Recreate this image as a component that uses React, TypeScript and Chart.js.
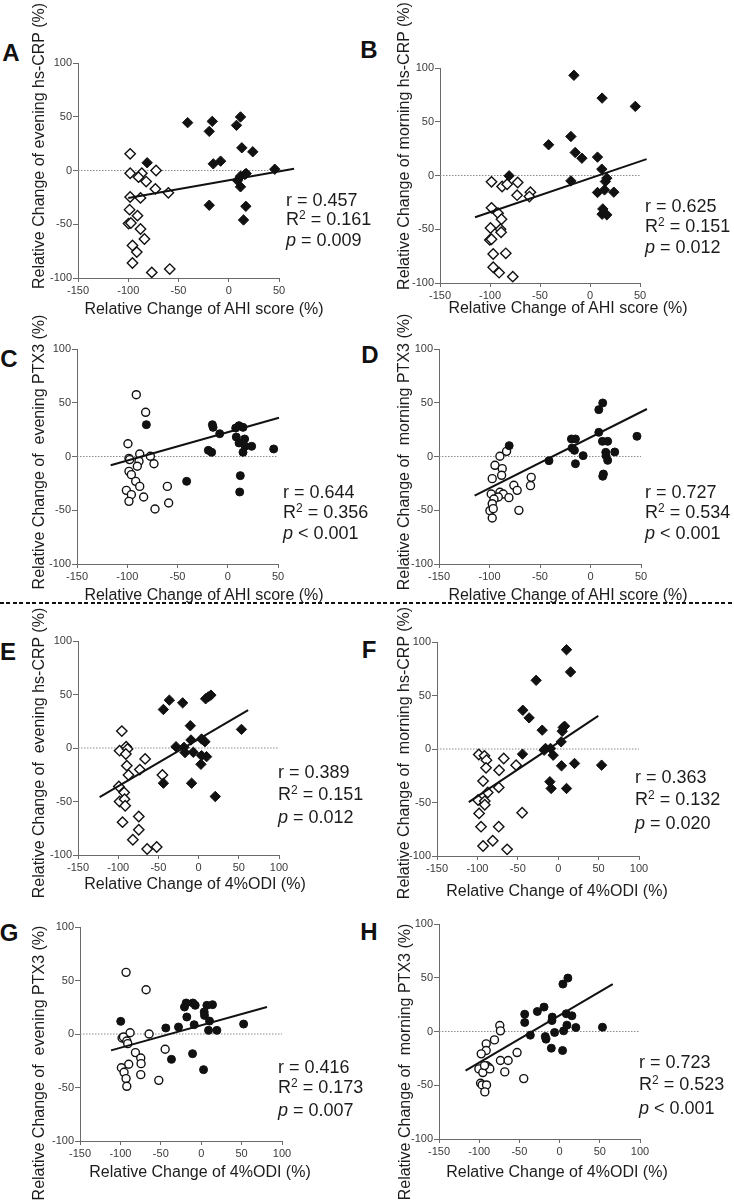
import React, { useEffect, useRef } from 'react';
import { Chart, registerables } from 'chart.js';

Chart.register(...registerables);

// ---------- tick labels ----------
const yTicks = [-100, -50, 0, 50, 100];
const xTicksAHI = [-150, -100, -50, 0, 50];
const xTicksODI = [-150, -100, -50, 0, 50, 100];

// ---------- Panel A : evening hs-CRP vs AHI ----------
const aOpenX = [-98.1, -98.1, -86.5, -89.8, -82.2, -72.3, -73, -60.1, -98.1, -87.8, -98.7, -90.8, -99.7, -97.4, -87.8, -83.9, -95.8, -91.5, -95.8, -76.6, -58.7];
const aOpenY = [15.5, -2.5, -2.5, -6.2, -10.3, 0, -17.1, -20.8, -24.6, -25.5, -36.4, -42, -49.4, -48.8, -54.4, -63.7, -69.7, -75.9, -86.1, -94.8, -91.7];
const aFillX = [-81.2, -40.9, -19.4, -16.4, -15.4, -8.1, -19.4, 7.7, 11.7, 13, 23.9, 8.7, 11.7, 16, 17.3, 11.7, 17, 14.7, 45.8];
const aFillY = [7.2, 44.5, 36.4, 45.7, 6.2, 8.7, -32.3, 42, 49.8, 21.1, 17.4, -9.3, -5.3, -3.7, -2.8, -15.2, -33.3, -46, 1.2];
const aFitX = [-100, 65];
const aFitY = [-25.5, 1.6];

// ---------- Panel B : morning hs-CRP vs AHI ----------
const bOpenX = [-98.5, -87.9, -82.9, -72.3, -72.9, -59.6, -60.6, -98.5, -91.9, -88.5, -99.5, -89.5, -88.9, -100.2, -98.5, -96.8, -84.2, -96.8, -90.9, -77.2];
const bOpenY = [-5.9, -10.2, -8.1, -6.5, -18.3, -15.5, -19.6, -30.1, -35.1, -40.7, -48.8, -50, -52.8, -59.9, -59.3, -73, -72.4, -85.4, -90.4, -94.1];
const bFillX = [-80.9, -41.4, -19.1, -16.1, -14.8, -8.1, -19.1, 7.5, 12.1, 45.3, 11.8, 7.5, 15.4, 16.8, 14.5, 23.8, 12.8, 12.1, 16.8];
const bFillY = [-0.3, 28.6, 36.3, 93.2, 21.4, 16.1, -5, 17.1, 72, 64.3, 5.9, -15.8, -5.6, -2.5, -13.4, -15.5, -31.1, -36, -36.6];
const bFitX = [-115, 56.6];
const bFitY = [-38.8, 15.2];

// ---------- Panel C : evening PTX3 vs AHI ----------
const cOpenX = [-91, -81.7, -99.3, -98.3, -97.6, -87.6, -88.3, -90, -77, -73.4, -98.3, -95.9, -91.6, -87.6, -100.9, -95.9, -98.3, -83.7, -60.1, -58.8, -72.4];
const cOpenY = [57.5, 41.1, 11.9, -1.7, -2.9, 2.3, -4.5, -9.1, 0.2, -6.7, -13.8, -16.9, -23.1, -27.8, -31.5, -35.5, -41.7, -37.7, -27.8, -43.3, -48.8];
const cFillX = [-81, -40.9, -19.3, -16, -15.3, -14.6, -8, 7.9, 8.5, 11.2, 15.2, 11.2, 16.8, 17.2, 15.2, 23.8, 12.5, 11.9, 45.7];
const cFillY = [29.6, -23.1, 5.7, 3.9, 29.6, 27.1, 21.2, 26.5, 18.1, 28.7, 27.1, 12.6, 16.3, 9.5, 3.9, 9.5, -17.8, -33, 7];
const cFitX = [-116.5, 51];
const cFitY = [-8.2, 36];

// ---------- Panel D : morning PTX3 vs AHI ----------
const dOpenX = [-89.7, -83.1, -94.6, -87.4, -97.3, -88, -75.9, -72.6, -58.7, -59.4, -98.3, -89.7, -86.4, -91.3, -80.8, -95.6, -97.3, -99.6, -96.3, -97.3, -70.9];
const dOpenY = [0.2, 4.8, -8.2, -11.3, -20.6, -17.5, -26.8, -31.5, -19.4, -27.1, -34.9, -33.3, -34.9, -37.7, -38.3, -39.5, -43.9, -50.4, -48.5, -57.2, -50.1];
const dFillX = [-80.5, -41.1, -18.9, -14.9, -18.2, -15.9, -14.9, -7.3, 8.2, 8.2, 12.1, 11.8, 17, 15.1, 15.4, 17, 12.8, 12.1, 24, 46];
const dFillY = [10.1, -3.9, 16.3, 16.3, 7.9, 5.7, -6.7, 0.8, 22.5, 43.6, 49.8, 14.1, 14.1, 3.9, 0.8, -3.6, -16.3, -18.4, 4.2, 18.8];
const dFitX = [-114.7, 55.9];
const dFitY = [-36.4, 44.2];

// ---------- Panel E : evening hs-CRP vs 4%ODI ----------
const eOpenX = [-95.5, -98.3, -90.1, -88.4, -90.5, -66.5, -89.3, -87.2, -73.1, -45, -99.2, -92.6, -98.3, -92.1, -91.3, -74.4, -94.6, -74.4, -81.8, -64, -52.1];
const eOpenY = [15.8, -2.5, 1.2, -0.9, -5.6, -10.2, -16.5, -25.2, -20.2, -25.2, -36, -41.6, -50, -47.8, -54, -64, -69.3, -76.4, -85.7, -94.4, -92.5];
const eFillX = [-43.8, -36.4, -19.8, -43.8, -28.1, -18.2, -16.9, -10.3, -9.5, -6.6, -8.7, 3.7, 7.9, 3.7, 2.9, 9.9, 8.7, 12, 15.3, 20.7, 53.3];
const eFillY = [36, 44.7, 42.2, -32.9, 1.2, 0.6, -4.3, 20.8, 7.5, -4, -32.9, 8.4, 5.9, -7.1, -15.2, -8.1, 46, 47.8, 49.4, -45.3, 17.4];
const eFitX = [-123.1, 61.6];
const eFitY = [-46, 35.4];

// ---------- Panel F : morning hs-CRP vs 4%ODI ----------
const fOpenX = [-98.3, -91.3, -88.8, -89.3, -67.4, -73.1, -52.1, -93, -73.6, -87.2, -99.2, -90.9, -90.9, -97.9, -44.6, -95.5, -73.6, -81, -93, -63.2];
const fOpenY = [-5.1, -6.4, -10.4, -17.6, -8.9, -19.8, -15.1, -30, -35.9, -40.6, -47.7, -48.7, -52.1, -60.2, -59.6, -72.6, -72.6, -85.7, -90.7, -93.8];
const fFillX = [-43.8, -36, -27.3, -19.8, -17.4, -15.7, -44.2, -9.5, -6.2, -10.3, -8.7, 3.7, 5, 7.9, 6.2, 4.1, 10.3, 15.3, 10.3, 20.2, 53.7];
const fFillY = [36.2, 29.1, 64.2, 17.6, -1.1, 0.5, -4.8, 0.5, -5.8, -30.6, -36.9, 6.7, 16.6, 21.3, 20.1, -15.7, 92.8, 72, -36.9, -13.5, -15.1];
const fFitX = [-110.7, 49.6];
const fFitY = [-49.6, 30.9];

// ---------- Panel G : evening PTX3 vs 4%ODI ----------
const gOpenX = [-93, -68.2, -88, -64.5, -97.9, -96.2, -92.1, -90.9, -81.4, -74.8, -74.4, -89.7, -98.8, -95.5, -93, -92.1, -74.8, -44.6, -52.5];
const gOpenY = [57.6, 41.4, 1.2, 0, -3.7, -2.8, -6.5, -9, -17.4, -22.4, -27.7, -28.3, -31.5, -35.8, -41.7, -48.9, -38, -14.3, -43.3];
const gFillX = [-99.6, -43.8, -28.1, -36.8, -18.6, -20.7, -17.8, -10.3, -7.4, -8.7, -10.7, 3.7, 4.1, 7, 10.3, 14, 9.1, 19.4, 2.9, 52.5];
const gFillY = [11.8, 5.6, 6.5, -23.7, 29, 25.2, 15.9, 29, 26.8, 8.7, -18.4, 20.6, 17.4, 26.8, 12.1, 27.4, 3.4, 3.4, -33.3, 9.3];
const gFitX = [-111.6, 81.4];
const gFitY = [-15.3, 25.2];

// ---------- Panel H : morning PTX3 vs 4%ODI ----------
const hOpenX = [-74.4, -73.6, -81, -91.3, -91.3, -97.5, -73.6, -64, -52.9, -68.2, -100.4, -95.5, -90.9, -88, -86.8, -93.4, -98.3, -96.3, -90.9, -93, -44.6];
const hOpenY = [5.6, 0.6, -7.8, -11.5, -17.7, -20.8, -27, -27, -19.6, -37.6, -34.8, -38.2, -31.7, -33.5, -34.8, -31.7, -48.1, -49.7, -49.7, -56.2, -43.8];
const hFillX = [-43.4, -43.4, -36.4, -27.7, -19.4, -17.8, -16.9, -10.3, -9.1, -9.5, -6.2, 3.7, 4.1, 10.3, 8.3, 15.3, 5, 9.1, 20.2, 53.3];
const hFillY = [16.1, 8.4, -3.4, 18.6, 22.7, -4.7, -7.1, -15.5, 13.4, 10.2, -0.9, -17.7, 44.1, 49.7, 16.5, 14.6, 0.6, 5.9, 3.7, 4];
const hFitX = [-117, 66.1];
const hFitY = [-36.3, 44.1];

// ---------- text ----------
const titleAHI = 'Relative Change of AHI score (%)';
const titleODI = 'Relative Change of 4%ODI (%)';
const statR = ['0.457', '0.625', '0.644', '0.727', '0.389', '0.363', '0.416', '0.723'];
const statR2 = ['0.161', '0.151', '0.356', '0.534', '0.151', '0.132', '0.173', '0.523'];
const statP = ['= 0.009', '= 0.012', '< 0.001', '< 0.001', '= 0.012', '= 0.020', '= 0.007', '< 0.001'];

// ---------- styling / layout ----------
const SANS = "'Liberation Sans', Arial, Helvetica, sans-serif";
const NARROW = "'Liberation Sans Narrow', 'Arial Narrow', 'Liberation Sans', Arial, sans-serif";
const AXIS = '#6a6a6a';
const TICK = '#3a3a3a';
const TEXT = '#1c1c1c';
const WY = 40;
const HX = 24;
const PADT = 12;
const PADR = 32;

type Panel = {
  id: string;
  openX: number[]; openY: number[]; fillX: number[]; fillY: number[];
  fitX: number[]; fitY: number[];
  xTicks: number[];
  marker: string;
  box: { l: number; r: number; t: number; b: number };
  letter: [number, number];
  yTitle: string; yTitlePos: [number, number];
  xTitle: string; xTitlePos: [number, number];
  stat: [number, number, number];
};

const panels: Panel[] = [
  { id: 'A', openX: aOpenX, openY: aOpenY, fillX: aFillX, fillY: aFillY, fitX: aFitX, fitY: aFitY, xTicks: xTicksAHI, marker: 'rectRot',
    box: { l: 78, r: 279, t: 63, b: 278 }, letter: [11, 53],
    yTitle: 'Relative Change of evening hs-CRP (%)', yTitlePos: [39, 146], xTitle: titleAHI, xTitlePos: [204, 309], stat: [286, 200, 19] },
  { id: 'B', openX: bOpenX, openY: bOpenY, fillX: bFillX, fillY: bFillY, fitX: bFitX, fitY: bFitY, xTicks: xTicksAHI, marker: 'rectRot',
    box: { l: 440, r: 640, t: 68, b: 283 }, letter: [369, 50],
    yTitle: 'Relative Change of morning hs-CRP (%)', yTitlePos: [404, 146], xTitle: titleAHI, xTitlePos: [568, 308], stat: [645, 207, 19.5] },
  { id: 'C', openX: cOpenX, openY: cOpenY, fillX: cFillX, fillY: cFillY, fitX: cFitX, fitY: cFitY, xTicks: xTicksAHI, marker: 'circle',
    box: { l: 77, r: 278, t: 349, b: 564 }, letter: [9, 359],
    yTitle: 'Relative Change of  evening PTX3 (%)', yTitlePos: [39, 452], xTitle: titleAHI, xTitlePos: [204, 595], stat: [283, 493, 19.5] },
  { id: 'D', openX: dOpenX, openY: dOpenY, fillX: dFillX, fillY: dFillY, fitX: dFitX, fitY: dFitY, xTicks: xTicksAHI, marker: 'circle',
    box: { l: 439, r: 641, t: 349, b: 564 }, letter: [370, 355],
    yTitle: 'Relative Change of  morning PTX3 (%)', yTitlePos: [404, 452], xTitle: titleAHI, xTitlePos: [568, 595], stat: [645, 493, 19.5] },
  { id: 'E', openX: eOpenX, openY: eOpenY, fillX: eFillX, fillY: eFillY, fitX: eFitX, fitY: eFitY, xTicks: xTicksODI, marker: 'rectRot',
    box: { l: 78, r: 279, t: 641, b: 855 }, letter: [8, 652],
    yTitle: 'Relative Change of  evening hs-CRP (%)', yTitlePos: [39, 753], xTitle: titleODI, xTitlePos: [195, 884], stat: [278, 773, 21.3] },
  { id: 'F', openX: fOpenX, openY: fOpenY, fillX: fFillX, fillY: fFillY, fitX: fFitX, fitY: fFitY, xTicks: xTicksODI, marker: 'rectRot',
    box: { l: 437, r: 639, t: 642, b: 856 }, letter: [369, 650],
    yTitle: 'Relative Change of  morning hs-CRP (%)', yTitlePos: [404, 753], xTitle: titleODI, xTitlePos: [557, 891], stat: [635, 778, 21.7] },
  { id: 'G', openX: gOpenX, openY: gOpenY, fillX: gFillX, fillY: gFillY, fitX: gFitX, fitY: gFitY, xTicks: xTicksODI, marker: 'circle',
    box: { l: 80, r: 282, t: 927, b: 1141 }, letter: [9, 933],
    yTitle: 'Relative Change of  evening PTX3 (%)', yTitlePos: [39, 1063], xTitle: titleODI, xTitlePos: [200, 1172], stat: [278, 1067, 20.7] },
  { id: 'H', openX: hOpenX, openY: hOpenY, fillX: hFillX, fillY: hFillY, fitX: hFitX, fitY: hFitY, xTicks: xTicksODI, marker: 'circle',
    box: { l: 439, r: 640, t: 924, b: 1139 }, letter: [369, 932],
    yTitle: 'Relative Change of  morning PTX3 (%)', yTitlePos: [405, 1062], xTitle: titleODI, xTitlePos: [557, 1172], stat: [639, 1063, 21.7] },
];

const zip = (xs: number[], ys: number[]) => xs.map((x, i) => ({ x, y: ys[i] }));

function buildConfig(p: Panel): any {
  const xMin = p.xTicks[0];
  const xMax = p.xTicks[p.xTicks.length - 1];
  const isDiamond = p.marker === 'rectRot';
  const radius = isDiamond ? 5.2 : 4;
  return {
    type: 'scatter',
    data: {
      datasets: [
        {
          data: [{ x: xMin, y: 0 }, { x: xMax, y: 0 }],
          showLine: true, pointRadius: 0, borderColor: '#8a8a8a', borderWidth: 1, borderDash: [1.5, 1.5],
          order: 4, clip: false,
        },
        {
          data: zip(p.openX, p.openY),
          pointStyle: p.marker, pointRadius: radius, backgroundColor: '#ffffff', borderColor: '#111111',
          borderWidth: 1.4, order: 3, clip: false,
        },
        {
          data: zip(p.fillX, p.fillY),
          pointStyle: p.marker, pointRadius: radius, backgroundColor: '#111111', borderColor: '#111111',
          borderWidth: 1, order: 2, clip: false,
        },
        {
          data: zip(p.fitX, p.fitY),
          showLine: true, pointRadius: 0, borderColor: '#111111', borderWidth: 2, order: 1, clip: false,
        },
      ],
    },
    options: {
      animation: false,
      responsive: false,
      devicePixelRatio: 1,
      events: [],
      layout: { padding: { top: PADT, right: PADR, left: 0, bottom: 0 } },
      plugins: { legend: { display: false }, tooltip: { enabled: false }, title: { display: false } },
      scales: {
        x: {
          type: 'linear', min: xMin, max: xMax,
          afterBuildTicks: (s: any) => { s.ticks = p.xTicks.map((v) => ({ value: v })); },
          afterFit: (s: any) => { s.height = HX; },
          grid: { drawOnChartArea: false, drawTicks: true, tickLength: 4, color: AXIS, lineWidth: 1 },
          border: { display: true, color: AXIS, width: 1 },
          ticks: { padding: 2, color: TICK, font: { family: NARROW, size: 11 }, maxRotation: 0, autoSkip: false,
            callback: (v: any) => String(v) },
        },
        y: {
          type: 'linear', min: yTicks[0], max: yTicks[yTicks.length - 1],
          afterBuildTicks: (s: any) => { s.ticks = yTicks.map((v) => ({ value: v })); },
          afterFit: (s: any) => { s.width = WY; },
          grid: { drawOnChartArea: false, drawTicks: true, tickLength: 5, color: AXIS, lineWidth: 1 },
          border: { display: true, color: AXIS, width: 1 },
          ticks: { padding: 1, color: TICK, font: { family: NARROW, size: 11 }, autoSkip: false,
            callback: (v: any) => String(v) },
        },
      },
    },
  };
}

function PanelChart({ p }: { p: Panel }) {
  const ref = useRef<HTMLCanvasElement>(null);
  const W = WY + (p.box.r - p.box.l) + PADR;
  const H = PADT + (p.box.b - p.box.t) + HX;
  useEffect(() => {
    if (!ref.current) return;
    const chart = new Chart(ref.current, buildConfig(p));
    return () => chart.destroy();
  }, []);
  return (
    <div style={{ position: 'absolute', left: p.box.l - WY, top: p.box.t - PADT, width: W, height: H }}>
      <canvas ref={ref} width={W} height={H} style={{ width: W, height: H, display: 'block' }} />
    </div>
  );
}

function PanelText({ p, i }: { p: Panel; i: number }) {
  const [sx, sy, lh] = p.stat;
  return (
    <>
      <div style={{ position: 'absolute', left: p.letter[0], top: p.letter[1], transform: 'translate(-50%, -50%)',
        fontSize: 24, fontWeight: 'bold', lineHeight: 1, color: '#111' }}>{p.id}</div>
      <div style={{ position: 'absolute', left: p.yTitlePos[0], top: p.yTitlePos[1],
        transform: 'translate(-50%, -50%) rotate(-90deg)', whiteSpace: 'pre', fontSize: 16, lineHeight: '18px', color: TEXT }}>
        {p.yTitle}
      </div>
      <div style={{ position: 'absolute', left: p.xTitlePos[0], top: p.xTitlePos[1],
        transform: 'translate(-50%, -50%)', whiteSpace: 'pre', fontSize: 16, lineHeight: '18px', color: TEXT }}>
        {p.xTitle}
      </div>
      <div style={{ position: 'absolute', left: sx, top: sy - lh / 2, fontSize: 18, lineHeight: lh + 'px', color: TEXT, whiteSpace: 'pre' }}>
        <div>{'r = ' + statR[i]}</div>
        <div>R<span style={{ fontSize: 12, position: 'relative', top: -6 }}>2</span>{' = ' + statR2[i]}</div>
        <div><i>p</i>{' ' + statP[i]}</div>
      </div>
    </>
  );
}

export default function App() {
  return (
    <div style={{ position: 'absolute', left: 0, top: 0, width: 734, height: 1203, overflow: 'hidden',
      background: '#ffffff', fontFamily: SANS }}>
      {panels.map((p) => <PanelChart key={'c' + p.id} p={p} />)}
      {panels.map((p, i) => <PanelText key={'t' + p.id} p={p} i={i} />)}
      <div style={{ position: 'absolute', left: 0, top: 602, width: 734, height: 1.5,
        background: 'repeating-linear-gradient(90deg, #111 0px, #111 4px, transparent 4px, transparent 6.5px)' }} />
    </div>
  );
}
